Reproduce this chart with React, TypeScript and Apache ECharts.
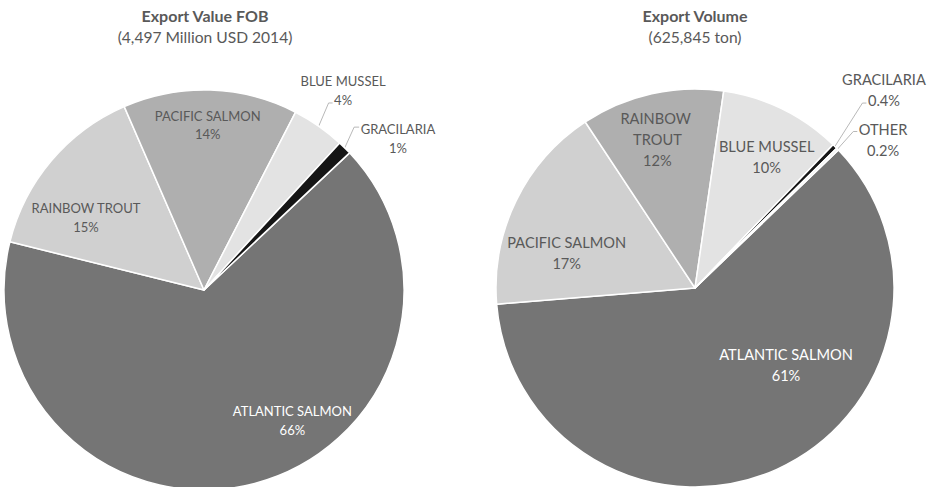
import React, { useEffect, useRef } from 'react';
import * as echarts from 'echarts';

// ---- data ----
const LEFT_TITLE = 'Export Value FOB';
const LEFT_SUBTITLE = '(4,497 Million USD 2014)';
const LEFT_NAMES = ['ATLANTIC SALMON', 'RAINBOW TROUT', 'PACIFIC SALMON', 'BLUE MUSSEL', 'GRACILARIA'];
const LEFT_VALUES = [65.9, 14.6, 14.1, 4.3, 1.1];

const RIGHT_TITLE = 'Export Volume';
const RIGHT_SUBTITLE = '(625,845 ton)';
const RIGHT_NAMES = ['ATLANTIC SALMON', 'PACIFIC SALMON', 'RAINBOW TROUT', 'BLUE MUSSEL', 'GRACILARIA', 'OTHER'];
const RIGHT_VALUES = [60.9, 17.0, 11.6, 9.9, 0.4, 0.2];

// ---- styles / layout ----
const LEFT_COLORS = ['#757575', '#d0d0d0', '#afafaf', '#e3e3e3', '#161616'];
const RIGHT_COLORS = ['#757575', '#d0d0d0', '#afafaf', '#e3e3e3', '#161616', '#f2f2f2'];
const TEXT_GRAY = '#595959';
const FONT = 'Lato';

type Geom = { cx: number; cy: number; r: number; start: number; fontSize: number; lineHeight: number };
const LEFT_GEOM: Geom = { cx: 204, cy: 290, r: 200, start: 46.7, fontSize: 13, lineHeight: 18.7 };
const RIGHT_GEOM: Geom = { cx: 695, cy: 288, r: 199, start: 46.1, fontSize: 14.6, lineHeight: 21 };

// label block centre: [angle clockwise from 12 o'clock, distance from centre]
const LEFT_LABEL_POLAR = [[145.9, 157.6], [301.5, 138.4], [1.3, 165], [34.9, 243.1], [52.0, 246.1]];
const RIGHT_LABEL_POLAR = [[130.4, 119.5], [285.3, 133], [345.8, 153.2], [28.7, 149.2], [43.6, 274], [51.8, 239.3]];
// leader lines for outside labels: which text line they point to, vertical nudge, horizontal tail
const LEFT_LEADERS: Record<number, { line: number; dy: number; tail: number }> = {
  3: { line: 1, dy: 3, tail: 4 },
  4: { line: 0, dy: -2, tail: 5 },
};
const RIGHT_LEADERS: Record<number, { line: number; dy: number; tail: number }> = {
  4: { line: 1, dy: 3, tail: 4 },
  5: { line: 0, dy: 2, tail: 4 },
};
const RIGHT_WRAP: Record<number, number> = { 2: 76 };

let measureCtx: CanvasRenderingContext2D | null = null;
function textWidth(t: string, size: number) {
  if (!measureCtx) measureCtx = document.createElement('canvas').getContext('2d');
  if (!measureCtx) return t.length * size * 0.55;
  measureCtx.font = `${size}px ${FONT}`;
  return measureCtx.measureText(t).width;
}

function polar(g: Geom, ang: number, dist: number): [number, number] {
  const a = (ang * Math.PI) / 180;
  return [g.cx + dist * Math.sin(a), g.cy - dist * Math.cos(a)];
}

function midAngles(values: number[], start: number) {
  const total = values.reduce((s, v) => s + v, 0);
  let acc = start;
  return values.map((v) => {
    const span = (v / total) * 360;
    const mid = acc + span / 2;
    acc += span;
    return mid;
  });
}

function fmtPct(p: number) {
  return p < 1 ? `${p.toFixed(1)}%` : `${Math.round(p)}%`;
}

function buildSeries(
  names: string[],
  values: number[],
  colors: string[],
  g: Geom,
  labelPolar: number[][],
  leaders: Record<number, { line: number; dy: number; tail: number }>,
  wrap: Record<number, number>
) {
  const mids = midAngles(values, g.start);
  const total = values.reduce((s, v) => s + v, 0);
  return {
    type: 'pie',
    center: [g.cx, g.cy],
    radius: [0, g.r],
    startAngle: 90 - g.start,
    clockwise: true,
    avoidLabelOverlap: false,
    emphasis: { disabled: true },
    itemStyle: { borderColor: '#ffffff', borderWidth: 1.5 },
    label: {
      show: true,
      formatter: (p: any) => `${p.name}\n${fmtPct(p.percent)}`,
      fontFamily: FONT,
      fontSize: g.fontSize,
      lineHeight: g.lineHeight,
      color: TEXT_GRAY,
      align: 'center',
    },
    labelLine: { show: false, lineStyle: { color: '#a6a6a6', width: 0.8 } },
    data: names.map((name, i) => {
      const outside = !!leaders[i];
      const lbl: any = { position: outside ? 'outside' : 'inside' };
      if (i === 0) lbl.color = '#ffffff';
      if (wrap[i]) {
        lbl.width = wrap[i];
        lbl.overflow = 'break';
      }
      return {
        name,
        value: values[i],
        itemStyle: { color: colors[i] },
        label: lbl,
        labelLine: { show: outside, length: 10, length2: 5 },
      };
    }),
    labelLayout: (params: any) => {
      const i = params.dataIndex;
      const [x, y] = polar(g, labelPolar[i][0], labelPolar[i][1]);
      const res: any = { x, y, align: 'center', verticalAlign: 'middle' };
      const ld = leaders[i];
      if (ld) {
        const lines = [names[i], fmtPct((values[i] / total) * 100)];
        const top = y - (lines.length * g.lineHeight) / 2;
        const ly = top + g.lineHeight * (ld.line + 0.5) + ld.dy;
        const lw = textWidth(lines[ld.line], g.fontSize);
        const ex = x - lw / 2 - 1.5;
        const start = polar(g, mids[i], g.r);
        res.labelLinePoints = [start, [ex - ld.tail, ly], [ex, ly]];
      }
      return res;
    },
  };
}

export default function App() {
  const ref = useRef<HTMLDivElement>(null);
  useEffect(() => {
    document.body.style.margin = '0';
    if (!ref.current) return;
    const chart = echarts.init(ref.current, undefined, { renderer: 'svg' });
    const titleText = (x: number, y: number, text: string, bold: boolean) => ({
      type: 'text',
      x,
      y,
      style: {
        text,
        fill: TEXT_GRAY,
        fontFamily: FONT,
        fontSize: bold ? 16 : 15.6,
        fontWeight: bold ? 'bold' : 'normal',
        align: 'center',
        verticalAlign: 'middle',
      },
    });
    chart.setOption({
      animation: false,
      backgroundColor: '#ffffff',
      graphic: [
        titleText(205, 15, LEFT_TITLE, true),
        titleText(205, 37, LEFT_SUBTITLE, false),
        titleText(695, 15, RIGHT_TITLE, true),
        titleText(695, 37, RIGHT_SUBTITLE, false),
      ],
      series: [
        buildSeries(LEFT_NAMES, LEFT_VALUES, LEFT_COLORS, LEFT_GEOM, LEFT_LABEL_POLAR, LEFT_LEADERS, {}),
        buildSeries(RIGHT_NAMES, RIGHT_VALUES, RIGHT_COLORS, RIGHT_GEOM, RIGHT_LABEL_POLAR, RIGHT_LEADERS, RIGHT_WRAP),
      ],
    });
    return () => chart.dispose();
  }, []);
  return <div ref={ref} style={{ position: 'fixed', left: 0, top: 0, width: 930, height: 487 }} />;
}
